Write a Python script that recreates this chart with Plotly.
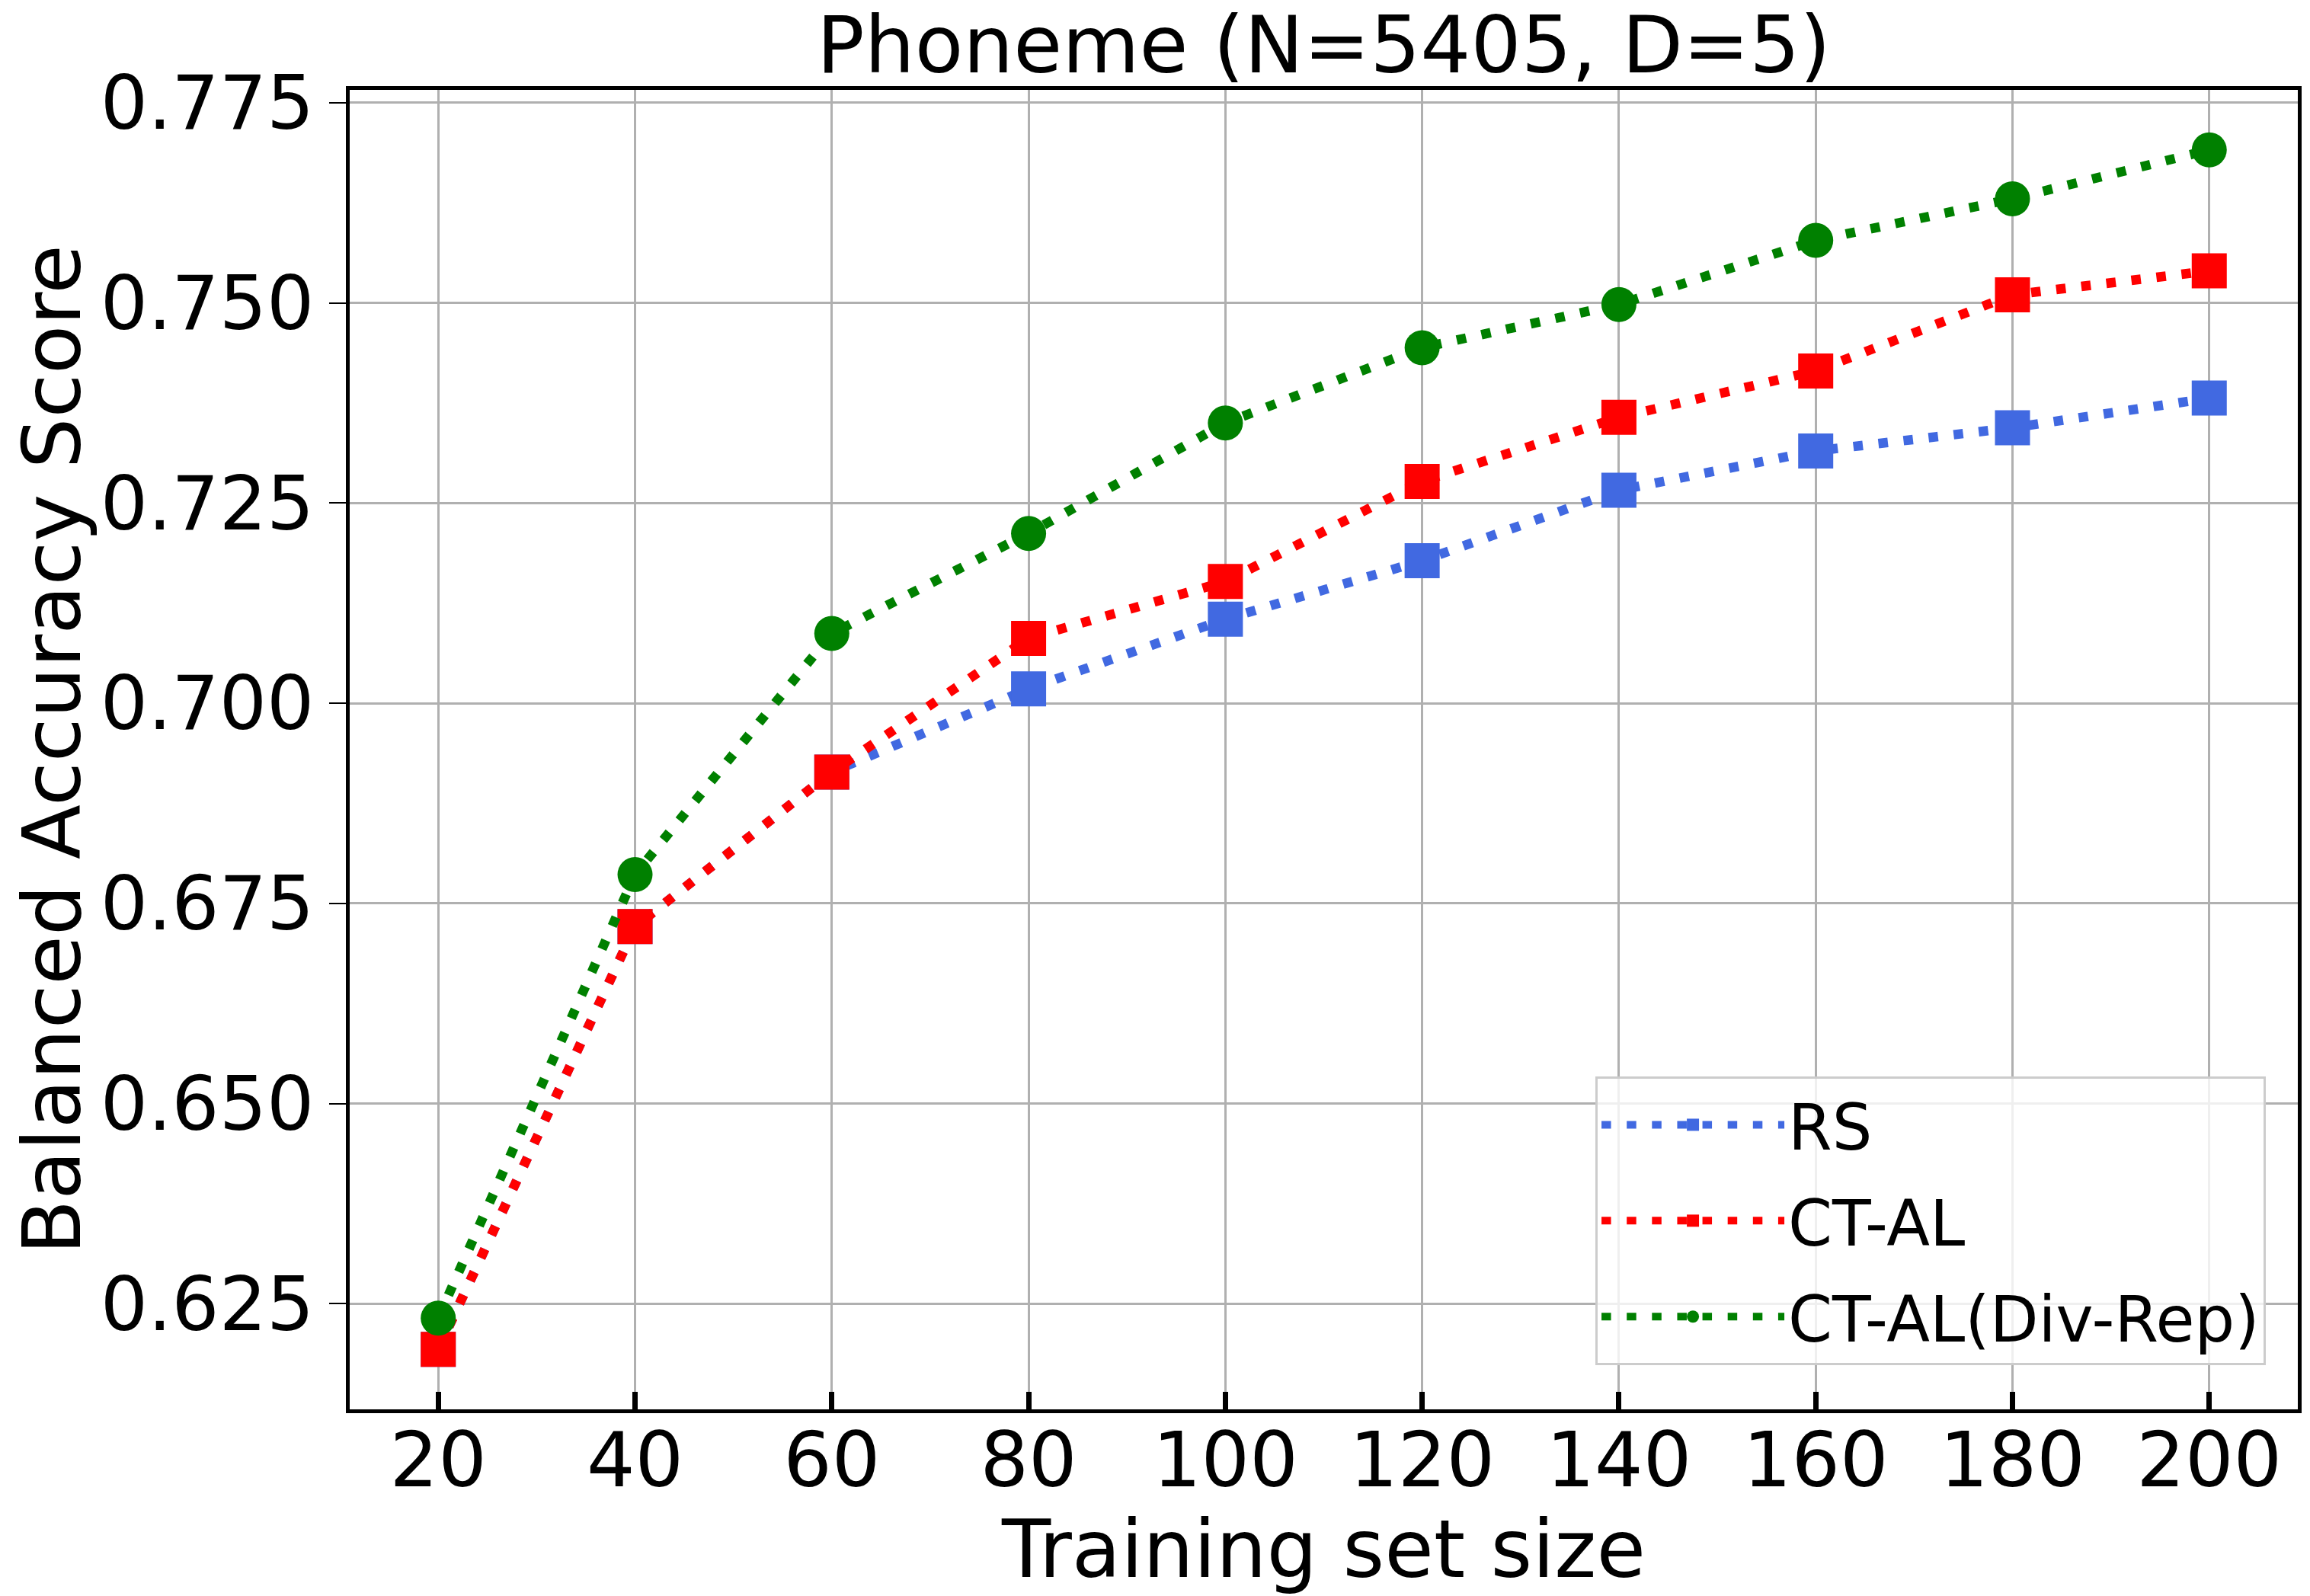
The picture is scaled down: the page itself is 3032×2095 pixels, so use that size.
import plotly.graph_objects as go

# training set sizes
train_sizes = [20, 40, 60, 80, 100, 120, 140, 160, 180, 200]

# balanced accuracy per strategy
rs_scores = [0.6193, 0.6721, 0.6914, 0.7018, 0.7105, 0.7178, 0.7266, 0.7315, 0.7344, 0.7381]
ctal_scores = [0.6193, 0.6721, 0.6914, 0.7081, 0.7152, 0.7277, 0.7357, 0.7415, 0.7510, 0.7540]
divrep_scores = [0.6232, 0.6786, 0.7087, 0.7212, 0.7350, 0.7444, 0.7498, 0.7578, 0.7630, 0.7691]

series_names = ["RS", "CT-AL", "CT-AL(Div-Rep)"]
series_colors = ["royalblue", "red", "green"]
series_symbols = ["square", "square", "circle"]

FONT = "DejaVu Sans"
LW = 12.5
# the page body keeps its default 8px margin, so the figure is 8px smaller
W, H = 3024, 2087

fig = go.Figure()
for i, (name, ys) in enumerate(zip(series_names, [rs_scores, ctal_scores, divrep_scores])):
    fig.add_trace(go.Scatter(
        x=train_sizes, y=ys, name=name, mode="lines+markers",
        legendgroup=name,
        line=dict(color=series_colors[i], width=LW, dash=f"{LW}px,{LW*1.65}px"),
        marker=dict(symbol=series_symbols[i], size=46, color=series_colors[i], line=dict(width=0)),
    ))

fig.update_layout(
    width=W, height=H,
    margin=dict(l=451, r=16, t=110, b=245),
    paper_bgcolor="white", plot_bgcolor="white",
    font=dict(family=FONT, color="black"),
    title=dict(text="Phoneme (N=5405, D=5)", x=0.5, xref="paper", xanchor="center",
               y=1 - 14 / H, yanchor="top", yref="container",
               font=dict(size=104, family=FONT, color="black")),
    legend=dict(x=0.9836, xanchor="right", y=0.0335, yanchor="bottom",
                bgcolor="rgba(255,255,255,0.8)", bordercolor="#cccccc", borderwidth=3,
                font=dict(size=83, family=FONT, color="black"),
                itemwidth=240, tracegroupgap=15),
)

fig.update_xaxes(
    range=[11, 209], tick0=0, dtick=20,
    showgrid=True, gridcolor="#b0b0b0", gridwidth=3,
    showline=True, linecolor="black", linewidth=5, mirror=True,
    ticks="inside", ticklen=23, tickwidth=7, tickcolor="black",
    ticklabelstandoff=-24,
    tickfont=dict(size=100, family=FONT, color="black"),
    title=dict(text="Training set size", font=dict(size=105, family=FONT, color="black"), standoff=24),
    zeroline=False,
)
fig.update_yaxes(
    range=[0.6118, 0.7766], tick0=0, dtick=0.025, tickformat=".3f",
    showgrid=True, gridcolor="#b0b0b0", gridwidth=3,
    showline=True, linecolor="black", linewidth=5, mirror=True,
    ticks="outside", ticklen=22, tickwidth=1.5, tickcolor="black",
    tickfont=dict(size=98, family=FONT, color="black"),
    title=dict(text="Balanced Accuracy Score", font=dict(size=105, family=FONT, color="black"), standoff=14),
    zeroline=False,
)

fig.write_html("out.html")
